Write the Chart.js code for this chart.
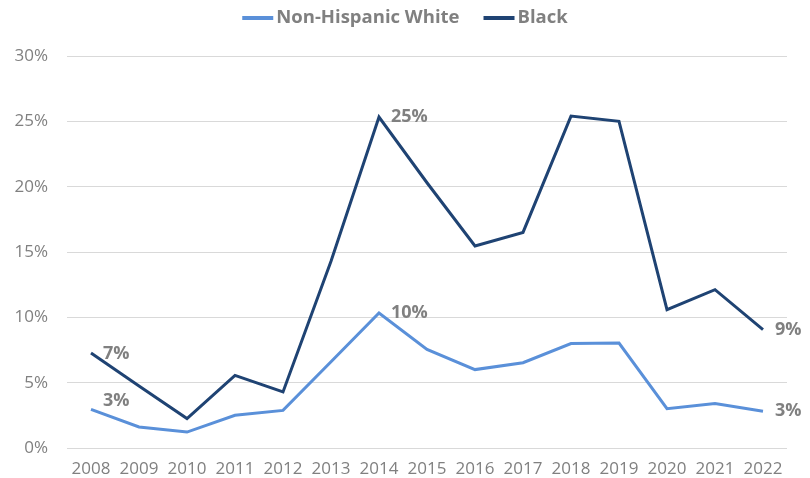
<!DOCTYPE html>
<html>
<head>
<meta charset="utf-8">
<script src="https://cdn.jsdelivr.net/npm/chart.js@4"></script>
<style>
  html, body { margin: 0; padding: 0; background: #ffffff; }
  #wrap { width: 810px; height: 478px; position: relative; }
</style>
</head>
<body>
<div id="wrap"><canvas id="chart"></canvas></div>
<script>
// Years on the horizontal axis
const years = ['2008','2009','2010','2011','2012','2013','2014','2015','2016','2017','2018','2019','2020','2021','2022'];

// Rates in percent
const whiteRates = [2.96, 1.61, 1.22, 2.5, 2.88, 6.6, 10.33, 7.55, 6.0, 6.53, 7.99, 8.03, 3.01, 3.4, 2.81];
const blackRates = [7.27, 4.75, 2.25, 5.56, 4.29, 14.3, 25.33, 20.3, 15.46, 16.5, 25.4, 25.0, 10.59, 12.12, 9.06];

// Points that carry a value label: [dataset index, point index, vertical shift]
const labelledPoints = [
  [0, 0, -8], [0, 6, 0], [0, 14, 0],
  [1, 0, 1], [1, 6, 0], [1, 14, 0]
];

const yTicks = [0, 5, 10, 15, 20, 25, 30];

const grey = '#808080';
const lightBlue = '#5a90d9';
const navy = '#1f4373';

// Writes the rounded value beside selected points
const valueLabels = {
  id: 'valueLabels',
  afterDatasetsDraw(chart) {
    const ctx = chart.ctx;
    ctx.save();
    ctx.font = 'bold 18px "Open Sans", sans-serif';
    ctx.fillStyle = grey;
    ctx.textAlign = 'left';
    ctx.textBaseline = 'middle';
    labelledPoints.forEach(([ds, i, dy]) => {
      const pt = chart.getDatasetMeta(ds).data[i];
      const v = chart.data.datasets[ds].data[i];
      ctx.fillText(Math.round(v) + '%', pt.x + 12, pt.y + dy);
    });
    ctx.restore();
  }
};

// Compact legend across the top: short line swatch, label right next to it
const topLegend = {
  id: 'topLegend',
  afterDraw(chart) {
    const ctx = chart.ctx;
    const swatchW = 31, swatchH = 4, gap = 3, spacing = 24, cy = 18, centreX = 405;
    ctx.save();
    ctx.font = 'bold 18.5px "Open Sans", sans-serif';
    ctx.textBaseline = 'middle';
    ctx.textAlign = 'left';
    const items = chart.data.datasets.map(ds => ({
      text: ds.label, color: ds.borderColor, w: ctx.measureText(ds.label).width
    }));
    const total = items.reduce((s, it) => s + swatchW + gap + it.w, 0) + spacing * (items.length - 1);
    let x = centreX - total / 2;
    items.forEach(it => {
      ctx.fillStyle = it.color;
      ctx.fillRect(x, cy - swatchH / 2, swatchW, swatchH);
      x += swatchW + gap;
      ctx.fillStyle = grey;
      ctx.fillText(it.text, x, cy);
      x += it.w + spacing;
    });
    ctx.restore();
  }
};

new Chart(document.getElementById('chart'), {
  type: 'line',
  data: {
    labels: years,
    datasets: [
      { label: 'Non-Hispanic White', data: whiteRates, borderColor: lightBlue, backgroundColor: lightBlue,
        borderWidth: 3, pointRadius: 0, tension: 0 },
      { label: 'Black', data: blackRates, borderColor: navy, backgroundColor: navy,
        borderWidth: 3, pointRadius: 0, tension: 0 }
    ]
  },
  plugins: [valueLabels, topLegend],
  options: {
    responsive: true,
    maintainAspectRatio: false,
    animation: false,
    layout: { padding: { left: 0, right: 23, top: 56, bottom: 0 } },
    plugins: {
      legend: { display: false },
      tooltip: { enabled: false }
    },
    scales: {
      x: {
        offset: true,
        grid: { display: false },
        border: { display: false },
        afterFit(axis) { axis.height = 30; },
        ticks: { color: grey, padding: 3, maxRotation: 0, autoSkip: false,
                 font: { family: '"Open Sans", sans-serif', size: 17 } }
      },
      y: {
        min: 0,
        max: 30,
        afterBuildTicks(axis) { axis.ticks = yTicks.map(v => ({ value: v })); },
        afterFit(axis) { axis.width = 67; },
        grid: { color: '#d9d9d9', lineWidth: 1, drawTicks: false },
        border: { display: false },
        ticks: { color: grey, padding: 19,
                 font: { family: '"Open Sans", sans-serif', size: 17 },
                 callback: v => v + '%' }
      }
    }
  }
});
</script>
</body>
</html>
